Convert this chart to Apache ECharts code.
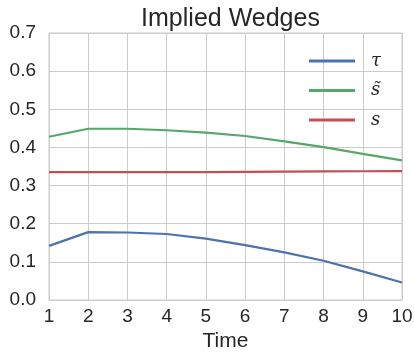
<!DOCTYPE html>
<html>
<head>
<meta charset="utf-8">
<script src="https://cdn.jsdelivr.net/npm/echarts@6/dist/echarts.min.js"></script>
<style>
  html, body { margin: 0; padding: 0; background: #ffffff; }
  #chart { width: 414px; height: 353px; }
</style>
</head>
<body>
<div id="chart"></div>
<script>
// Time periods on the horizontal axis
const periods = [1, 2, 3, 4, 5, 6, 7, 8, 9, 10];

// Implied wedge series
const tau    = [0.142, 0.178, 0.177, 0.173, 0.161, 0.144, 0.125, 0.103, 0.075, 0.046];
const sTilde = [0.428, 0.449, 0.449, 0.445, 0.439, 0.430, 0.416, 0.401, 0.383, 0.366];
const sPlain = [0.3355, 0.335, 0.335, 0.3352, 0.3355, 0.336, 0.3365, 0.337, 0.3375, 0.338];

// Legend names
const seriesNames = ['\u03C4', 's\u0303', 's'];
const seriesColors = ['#4C72B0', '#55A868', '#C44E52'];

const pairs = (ys) => periods.map((x, i) => [x, ys[i]]);

const chart = echarts.init(document.getElementById('chart'), null, { renderer: 'canvas' });
const textColor = '#262626';
const gridColor = '#cccccc';
const sans = '"Liberation Sans", Arial, sans-serif';

chart.setOption({
  animation: false,
  backgroundColor: '#ffffff',
  title: {
    text: 'Implied Wedges',
    left: 225.5,
    textAlign: 'center',
    top: 2,
    textStyle: { fontFamily: sans, fontSize: 25, fontWeight: 'normal', color: textColor }
  },
  legend: {
    orient: 'vertical',
    left: 304,
    top: 46,
    icon: 'rect',
    itemWidth: 46,
    itemHeight: 3,
    itemGap: 9.5,
    data: seriesNames,
    textStyle: {
      fontFamily: '"DejaVu Serif", serif',
      fontStyle: 'italic',
      fontSize: 18,
      lineHeight: 20,
      color: textColor,
      padding: [0, 0, 0, 11]
    }
  },
  grid: {
    left: 49, right: 12, top: 33, bottom: 53,
    outerBoundsMode: 'none',
    containLabel: false,
    show: true, borderColor: gridColor, borderWidth: 1, backgroundColor: 'transparent'
  },
  xAxis: {
    type: 'value',
    min: 1, max: 10, interval: 1,
    name: 'Time',
    nameLocation: 'middle',
    nameGap: 29,
    nameTextStyle: { fontFamily: sans, fontSize: 21, color: textColor },
    axisLine: { show: true, lineStyle: { color: gridColor, width: 1 } },
    axisTick: { show: false },
    axisLabel: { fontFamily: sans, fontSize: 19, color: textColor, margin: 7 },
    splitLine: { show: true, lineStyle: { color: gridColor, width: 1 } }
  },
  yAxis: {
    type: 'value',
    min: 0, max: 0.7, interval: 0.1,
    axisLine: { show: true, lineStyle: { color: gridColor, width: 1 } },
    axisTick: { show: false },
    axisLabel: {
      fontFamily: sans, fontSize: 19, color: textColor, margin: 13,
      formatter: (v) => v.toFixed(1)
    },
    splitLine: { show: true, lineStyle: { color: gridColor, width: 1 } }
  },
  series: [tau, sTilde, sPlain].map((ys, i) => ({
    name: seriesNames[i],
    type: 'line',
    data: pairs(ys),
    showSymbol: false,
    symbol: 'none',
    color: seriesColors[i],
    lineStyle: { color: seriesColors[i], width: 2.2 }
  }))
});
</script>
</body>
</html>
